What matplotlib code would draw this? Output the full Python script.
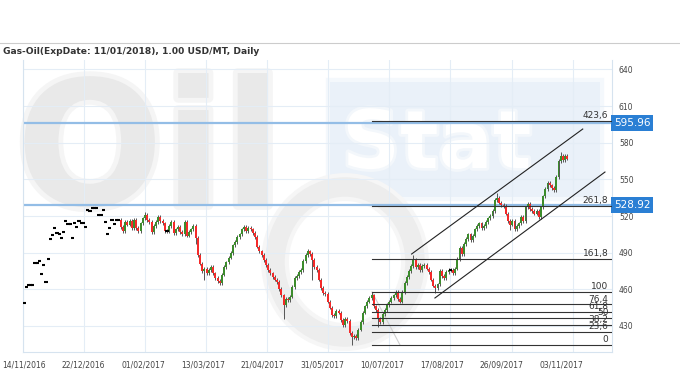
import numpy as np
import matplotlib.pyplot as plt
import matplotlib.transforms as mtransforms
import matplotlib.patheffects as pe
from matplotlib.patches import Rectangle, Ellipse

title = "Gas-Oil(ExpDate: 11/01/2018), 1.00 USD/MT, Daily"
date_labels = ["14/11/2016", "22/12/2016", "01/02/2017", "13/03/2017", "21/04/2017",
               "31/05/2017", "10/07/2017", "17/08/2017", "26/09/2017", "03/11/2017"]
price_ticks = [430, 460, 490, 520, 550, 580, 610, 640]

# first bars are flat prints (open = high = low = close)
n_flat = 44
closes = [
    448.6, 462.2, 463.5, 463.5, 463.5, 481.8, 481.8, 483.4, 472.5, 479.7,
    466.3, 484.8, 501.5, 504.5, 510.0, 506.4, 505.3, 502.3, 507.2, 516.2,
    513.2, 513.2, 501.8, 514.6, 510.8, 516.2, 514.6, 514.6, 511.0, 524.9,
    524.1, 526.3, 526.3, 526.3, 520.8, 520.8, 524.9, 514.9, 505.3, 510.4,
    516.7, 513.2, 516.7, 516.7,
    511, 508, 515, 513, 516, 510, 517, 510, 508, 514,
    518, 521, 517, 515, 507, 512, 515, 519, 516, 514,
    508, 508, 512, 515, 506, 509, 511, 507, 505, 515,
    504, 507, 509, 512, 502, 488, 481, 475, 477, 473,
    476, 478, 473, 469, 467, 465, 472, 478, 482, 486,
    490, 496, 499, 503, 505, 509, 511, 508, 510, 509,
    506, 503, 495, 491, 488, 484, 480, 476, 473, 470,
    468, 466, 460, 455, 447, 452, 451, 454, 462, 469,
    471, 474, 476, 483, 488, 491, 489, 484, 478, 476,
    468, 461, 457, 456, 450, 445, 439, 438, 442, 441,
    435, 431, 436, 434, 424, 421, 422, 420, 427, 433,
    441, 446, 450, 453, 455, 446, 443, 436, 433, 440,
    443, 447, 450, 453, 455, 458, 452, 450, 458, 465,
    470, 475, 479, 484, 478, 480, 476, 479, 480, 477,
    474, 468, 463, 461, 464, 475, 471, 469, 474, 476,
    476, 473, 477, 485, 494, 489, 497, 501, 505, 500,
    504, 509, 512, 514, 510, 512, 515, 518, 520, 524,
    533, 535, 531, 529, 528, 522, 516, 513, 516, 509,
    512, 514, 519, 516, 527, 530, 526, 524, 522, 524,
    519, 527, 536, 542, 547, 545, 543, 541, 552, 565,
    569, 566, 569, 567,
]
# wick extremes that stand out
highs_seen = {55: 523, 129: 493, 158: 458, 177: 488, 215: 539, 244: 572}
lows_seen = {78: 497, 82: 467.5, 118: 436, 131: 468, 149: 414.5, 161: 429,
             187: 457, 221: 508.5}

fib_low, fib_high = 414.5, 457.8
fib_levels = [0, 23.6, 38.2, 50, 61.8, 76.4, 100, 161.8, 261.8, 423.6]
fib_start = 158
price_lines = [595.96, 528.92]
upper_channel = ([176.2, 254.0], [488.9, 591.2])
lower_channel = ([186.8, 264.1], [452.9, 556.0])
faint_line = ([158.2, 170.9], [457.8, 414.5])

fig = plt.figure(figsize=(6.8, 3.8), dpi=100)

# background / watermark in pixel coordinates
bg = fig.add_axes([0, 0, 1, 1], zorder=-1)
bg.set_xlim(0, 680)
bg.set_ylim(380, 0)
bg.axis("off")
bg.plot([0, 680], [43, 43], color="#cccccc", lw=0.8)
soft = [pe.Stroke(linewidth=7, foreground="#f5f5f5"), pe.Normal()]
bg.text(16, 205, "Oil", fontsize=125, weight="bold", color="#e9e9e9", path_effects=soft)
bg.add_patch(Rectangle((330, 82), 270, 115, fc="#eaf1f9", ec="none",
                       path_effects=[pe.Stroke(linewidth=6, foreground="#f4f8fc"), pe.Normal()]))
bg.text(342, 168, "Stat", fontsize=58, weight="bold", color="white",
        path_effects=[pe.Stroke(linewidth=4, foreground="#f3f7fb"), pe.Normal()])
bg.add_patch(Ellipse((345, 262), 140, 150, fill=False, ec="#ededed", lw=14,
                     path_effects=[pe.Stroke(linewidth=20, foreground="#f6f6f6"), pe.Normal()]))

ax = fig.add_axes([22.7 / 680, 28 / 380, (612 - 22.7) / 680, 292 / 380], zorder=1)
ax.set_facecolor("none")

idx = np.arange(len(closes))
c = np.array(closes, dtype=float)
o = np.r_[c[0], c[:-1]]
o[:n_flat] = c[:n_flat]
hi = np.maximum(o, c) + 1.5
lo = np.minimum(o, c) - 1.5
hi[:n_flat] = c[:n_flat]
lo[:n_flat] = c[:n_flat]
for k, v in highs_seen.items():
    hi[k] = v
for k, v in lows_seen.items():
    lo[k] = v

cand = idx >= n_flat
up = cand & (c > o)
dn = cand & (c < o)
eq = c == o
ax.vlines(idx[cand], lo[cand], hi[cand], color="#555555", lw=0.7, zorder=3)
ax.bar(idx[up], (c - o)[up], bottom=o[up], width=0.85, color="#3c8c2c", lw=0, zorder=4)
ax.bar(idx[dn], (o - c)[dn], bottom=c[dn], width=0.85, color="#f42a2a", lw=0, zorder=4)
ax.hlines(c[eq], idx[eq] - 0.7, idx[eq] + 0.7, color="black", lw=1.5, zorder=4)

ax.set_xlim(-0.6, 267.3)
ax.set_ylim(408.7, 647.7)

# horizontal price levels
lab_tr = mtransforms.blended_transform_factory(ax.transAxes, ax.transData)
for p in price_lines:
    ax.axhline(p, color="#93bde6", lw=1.6, zorder=2)
    ax.text(1.003, p, "%.2f" % p, transform=lab_tr,
            ha="left", va="center", color="white", fontsize=7.5,
            bbox=dict(boxstyle="square,pad=0.3", fc="#2a7fd4", ec="none"), clip_on=False)

# fibonacci levels
for lv in fib_levels:
    y = fib_low + (fib_high - fib_low) * lv / 100
    ax.plot([fib_start, 267.3], [y, y], color="#333333", lw=0.8, zorder=5)
    ax.text(0.994, y + 0.8, ("%g" % lv).replace(".", ","), transform=lab_tr,
            ha="right", va="bottom", fontsize=6.5, color="#333333", zorder=6)

ax.plot(*upper_channel, color="#222222", lw=0.8, zorder=5)
ax.plot(*lower_channel, color="#222222", lw=0.8, zorder=5)
ax.plot(*faint_line, color="#d0d0d0", lw=0.8, zorder=2)

# axes styling
grid_pos = [-0.6 + 27.78 * k for k in range(10)]
label_pos = [27.12 * k for k in range(10)]
ax.set_xticks(label_pos)
ax.set_xticklabels(date_labels, fontsize=5.5, color="#444444")
ax.set_xticks(grid_pos, minor=True)
ax.yaxis.tick_right()
ax.set_yticks(price_ticks)
ax.set_yticklabels([str(t) for t in price_ticks], fontsize=5.5, color="#444444")
ax.tick_params(which="both", length=0)
ax.tick_params(axis="y", pad=5)
ax.tick_params(axis="x", pad=6)
ax.grid(which="minor", axis="x", color="#e4edf6", lw=0.8)
ax.grid(which="major", axis="y", color="#e4edf6", lw=0.8)
ax.set_axisbelow(True)
for s in ["left", "right", "bottom"]:
    ax.spines[s].set_color("#d6e3ef")
ax.spines["top"].set_visible(False)

fig.text(3 / 680, 1 - 52 / 380, title, fontsize=6.6, weight="bold", color="#333333", va="center")

fig.savefig("out.png", dpi=100)
